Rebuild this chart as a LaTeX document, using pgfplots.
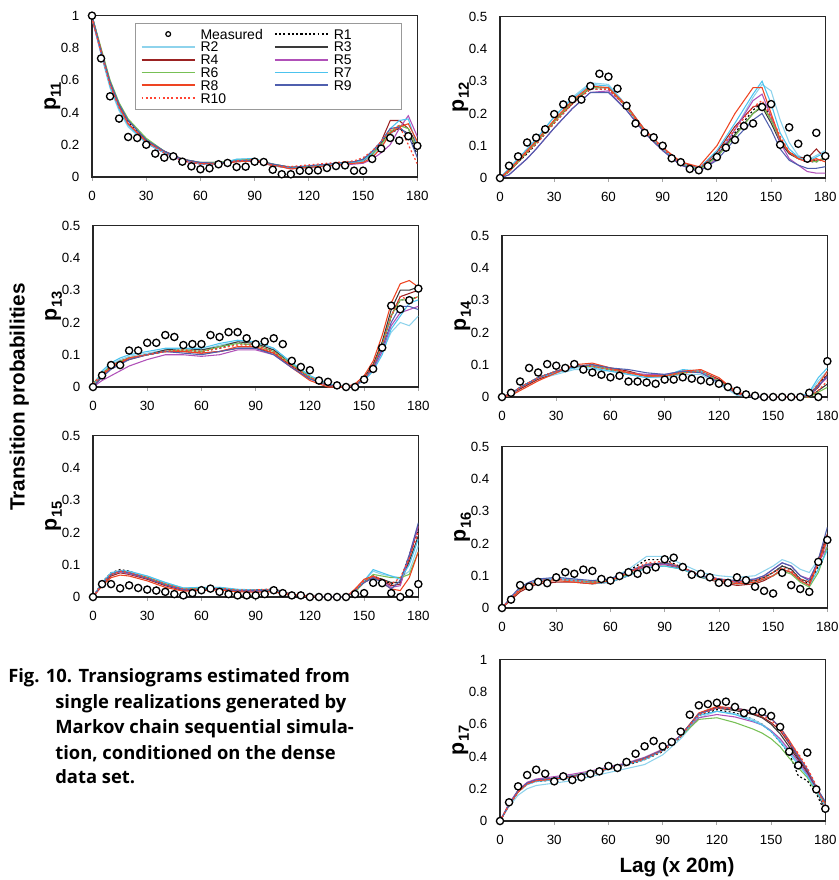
\documentclass[border=0pt]{standalone}
\usepackage{fontspec}
\setmainfont{Liberation Sans}
\newfontfamily\capfont{Open Sans}
\usepackage{pgfplots}
\usepackage{pgfplotstable}
\pgfplotsset{compat=1.18}

\definecolor{cR2}{HTML}{8ED3EC}
\definecolor{cR3}{HTML}{3A3A3A}
\definecolor{cR4}{HTML}{9B2222}
\definecolor{cR5}{HTML}{B050B8}
\definecolor{cR6}{HTML}{77C055}
\definecolor{cR7}{HTML}{4CC3EE}
\definecolor{cR8}{HTML}{EE4422}
\definecolor{cR9}{HTML}{4F5FAE}
\definecolor{cR10}{HTML}{FF4433}

% measured transiograms, lag step 5
\pgfplotstableread{
lag m11 m12 m13 m14 m15 m16 m17
0 1.00 0 0 0 0 0 0
5 0.735 0.038 0.036 0.013 0.040 0.026 0.116
10 0.50 0.067 0.068 0.048 0.040 0.071 0.215
15 0.362 0.110 0.068 0.090 0.027 0.066 0.285
20 0.248 0.125 0.113 0.076 0.036 0.081 0.318
25 0.242 0.151 0.113 0.102 0.028 0.077 0.293
30 0.200 0.198 0.137 0.097 0.023 0.095 0.246
35 0.145 0.228 0.137 0.090 0.020 0.111 0.277
40 0.120 0.244 0.161 0.102 0.016 0.106 0.254
45 0.128 0.243 0.155 0.085 0.009 0.119 0.271
50 0.095 0.285 0.130 0.076 0.005 0.115 0.293
55 0.066 0.323 0.133 0.069 0.012 0.090 0.308
60 0.048 0.314 0.133 0.061 0.021 0.085 0.341
65 0.054 0.277 0.161 0.066 0.026 0.099 0.329
70 0.079 0.224 0.155 0.048 0.016 0.111 0.366
75 0.087 0.169 0.170 0.048 0.009 0.106 0.417
80 0.062 0.140 0.170 0.045 0.005 0.118 0.463
85 0.064 0.126 0.151 0.041 0.005 0.126 0.496
90 0.095 0.100 0.133 0.054 0.005 0.151 0.463
95 0.093 0.061 0.141 0.054 0.009 0.156 0.490
100 0.045 0.049 0.151 0.061 0.021 0.127 0.554
105 0.017 0.028 0.133 0.057 0.012 0.103 0.659
110 0.017 0.024 0.081 0.052 0.005 0.106 0.717
115 0.039 0.037 0.062 0.048 0.005 0.095 0.725
120 0.039 0.065 0.052 0.041 0 0.078 0.733
125 0.041 0.094 0.020 0.031 0 0.078 0.740
130 0.056 0.118 0.016 0.020 0 0.095 0.707
135 0.068 0.161 0.005 0.008 0 0.086 0.669
140 0.072 0.169 0 0.004 0 0.066 0.684
145 0.039 0.220 0 0 0.009 0.053 0.676
150 0.039 0.229 0.023 0 0.012 0.045 0.651
155 0.112 0.103 0.056 0 0.044 0.109 0.583
160 0.176 0.157 0.122 0 0.043 0.071 0.430
165 0.242 0.106 0.252 0 0.012 0.059 0.345
170 0.226 0.060 0.241 0.013 0 0.050 0.424
175 0.253 0.140 0.269 0 0.012 0.143 0.196
180 0.193 0.068 0.305 0.111 0.040 0.211 0.076
}\meas

% realizations R1..R10, one table per transiogram
\pgfplotstableread{
lag r1 r2 r3 r4 r5 r6 r7 r8 r9 r10
0 1.00 0.98 1.00 0.99 0.98 1.00 0.99 0.98 1.00 0.99
5 0.78 0.76 0.79 0.78 0.77 0.80 0.77 0.79 0.78 0.77
10 0.58 0.55 0.59 0.57 0.57 0.60 0.56 0.58 0.59 0.57
15 0.44 0.41 0.45 0.43 0.43 0.46 0.42 0.44 0.45 0.43
20 0.34 0.31 0.35 0.33 0.33 0.36 0.32 0.33 0.35 0.33
30 0.22 0.21 0.23 0.22 0.21 0.24 0.21 0.22 0.23 0.22
40 0.15 0.15 0.16 0.15 0.15 0.16 0.15 0.16 0.16 0.15
50 0.11 0.10 0.11 0.11 0.10 0.11 0.11 0.11 0.11 0.10
60 0.085 0.08 0.09 0.085 0.08 0.09 0.08 0.085 0.09 0.08
70 0.085 0.08 0.09 0.08 0.085 0.09 0.08 0.085 0.085 0.08
80 0.10 0.11 0.10 0.095 0.10 0.105 0.11 0.095 0.10 0.10
90 0.11 0.11 0.105 0.10 0.10 0.11 0.115 0.10 0.105 0.11
100 0.075 0.07 0.08 0.07 0.075 0.08 0.07 0.075 0.08 0.07
110 0.06 0.055 0.06 0.055 0.05 0.06 0.055 0.05 0.06 0.065
120 0.065 0.06 0.065 0.06 0.06 0.065 0.06 0.06 0.07 0.075
130 0.075 0.07 0.075 0.07 0.07 0.075 0.075 0.07 0.08 0.085
140 0.085 0.08 0.09 0.085 0.075 0.09 0.085 0.08 0.09 0.095
145 0.09 0.085 0.095 0.09 0.08 0.095 0.09 0.085 0.095 0.10
150 0.10 0.09 0.11 0.10 0.085 0.105 0.10 0.09 0.11 0.12
155 0.15 0.13 0.15 0.14 0.11 0.14 0.15 0.12 0.16 0.16
160 0.21 0.19 0.21 0.22 0.15 0.20 0.22 0.18 0.22 0.22
165 0.27 0.26 0.28 0.35 0.20 0.28 0.30 0.27 0.30 0.29
170 0.30 0.32 0.30 0.35 0.30 0.32 0.35 0.31 0.31 0.32
175 0.26 0.30 0.27 0.30 0.38 0.30 0.36 0.33 0.26 0.20
180 0.14 0.18 0.17 0.20 0.25 0.17 0.19 0.22 0.12 0.08
}\rA

\pgfplotstableread{
lag r1 r2 r3 r4 r5 r6 r7 r8 r9 r10
0 0 0 0 0 0 0 0 0 0 0
5 0.02 0.03 0.02 0.02 0.01 0.02 0.03 0.025 0.01 0.02
10 0.05 0.06 0.05 0.05 0.035 0.05 0.06 0.055 0.035 0.05
15 0.075 0.09 0.08 0.08 0.06 0.08 0.09 0.085 0.06 0.08
20 0.105 0.12 0.11 0.11 0.09 0.11 0.12 0.115 0.09 0.105
30 0.17 0.19 0.175 0.175 0.155 0.175 0.19 0.18 0.155 0.17
40 0.23 0.25 0.235 0.23 0.215 0.235 0.245 0.24 0.215 0.23
50 0.275 0.295 0.28 0.28 0.265 0.28 0.29 0.285 0.265 0.275
60 0.275 0.29 0.28 0.28 0.27 0.28 0.285 0.28 0.265 0.275
70 0.22 0.225 0.22 0.22 0.21 0.22 0.225 0.225 0.21 0.22
80 0.145 0.15 0.145 0.15 0.14 0.145 0.15 0.15 0.14 0.145
90 0.09 0.09 0.09 0.09 0.085 0.09 0.09 0.095 0.085 0.09
100 0.045 0.045 0.045 0.05 0.04 0.045 0.045 0.05 0.04 0.045
110 0.025 0.03 0.025 0.03 0.02 0.025 0.03 0.035 0.02 0.03
120 0.07 0.075 0.07 0.08 0.06 0.065 0.085 0.10 0.055 0.075
130 0.14 0.15 0.135 0.16 0.15 0.13 0.17 0.20 0.12 0.15
140 0.21 0.25 0.20 0.22 0.24 0.20 0.26 0.28 0.18 0.22
145 0.235 0.29 0.22 0.23 0.26 0.225 0.30 0.28 0.20 0.24
150 0.19 0.27 0.17 0.18 0.19 0.18 0.23 0.20 0.15 0.19
155 0.12 0.18 0.11 0.12 0.11 0.12 0.14 0.12 0.09 0.13
160 0.08 0.11 0.075 0.08 0.06 0.08 0.09 0.08 0.055 0.08
165 0.06 0.07 0.06 0.065 0.04 0.06 0.065 0.06 0.04 0.06
170 0.05 0.055 0.05 0.06 0.02 0.055 0.05 0.05 0.03 0.05
175 0.05 0.07 0.055 0.09 0.015 0.05 0.065 0.06 0.03 0.055
180 0.06 0.085 0.06 0.06 0.015 0.065 0.08 0.05 0.035 0.06
}\rB

\pgfplotstableread{
lag r1 r2 r3 r4 r5 r6 r7 r8 r9 r10
0 0.01 0 0.01 0 0 0.01 0 0 0 0.01
5 0.04 0.045 0.04 0.035 0.02 0.04 0.05 0.035 0.03 0.04
10 0.065 0.07 0.065 0.06 0.035 0.065 0.075 0.06 0.055 0.065
15 0.08 0.085 0.08 0.075 0.05 0.08 0.09 0.075 0.07 0.08
20 0.09 0.095 0.09 0.085 0.065 0.09 0.10 0.09 0.085 0.09
30 0.10 0.105 0.10 0.10 0.085 0.10 0.11 0.10 0.10 0.10
40 0.11 0.115 0.115 0.11 0.10 0.11 0.12 0.11 0.11 0.11
50 0.115 0.12 0.12 0.11 0.10 0.115 0.12 0.11 0.105 0.115
60 0.11 0.115 0.115 0.105 0.095 0.11 0.12 0.105 0.10 0.11
70 0.12 0.13 0.125 0.11 0.10 0.125 0.135 0.11 0.11 0.12
80 0.135 0.14 0.14 0.12 0.115 0.135 0.145 0.125 0.12 0.13
90 0.13 0.14 0.135 0.12 0.115 0.13 0.14 0.125 0.12 0.13
100 0.11 0.12 0.115 0.105 0.10 0.11 0.12 0.105 0.10 0.11
110 0.065 0.075 0.07 0.065 0.06 0.07 0.075 0.06 0.06 0.065
120 0.03 0.035 0.03 0.03 0.025 0.03 0.035 0.02 0.025 0.03
130 0.005 0.01 0.005 0.005 0.005 0.005 0.01 0 0.005 0.005
140 0 0 0 0 0 0 0 0 0 0
145 0.005 0.005 0.005 0.005 0.005 0.005 0.005 0.01 0.005 0.005
150 0.025 0.02 0.03 0.025 0.02 0.025 0.02 0.035 0.025 0.025
155 0.065 0.05 0.07 0.065 0.055 0.06 0.05 0.08 0.06 0.065
160 0.13 0.11 0.14 0.13 0.11 0.13 0.10 0.16 0.12 0.13
165 0.22 0.17 0.24 0.22 0.19 0.22 0.18 0.26 0.20 0.22
170 0.27 0.20 0.30 0.28 0.23 0.27 0.22 0.32 0.25 0.28
175 0.27 0.19 0.30 0.29 0.24 0.27 0.26 0.33 0.25 0.27
180 0.28 0.22 0.31 0.30 0.25 0.28 0.27 0.31 0.24 0.28
}\rC

\pgfplotstableread{
lag r1 r2 r3 r4 r5 r6 r7 r8 r9 r10
0 0 0 0 0 0 0 0 0 0 0
5 0.01 0.005 0.01 0.01 0.01 0.01 0.01 0.005 0.01 0.01
10 0.03 0.025 0.03 0.025 0.03 0.03 0.03 0.02 0.03 0.03
15 0.045 0.04 0.045 0.04 0.045 0.045 0.045 0.035 0.045 0.045
20 0.06 0.055 0.06 0.055 0.06 0.06 0.06 0.05 0.06 0.06
30 0.08 0.07 0.08 0.075 0.08 0.08 0.075 0.075 0.08 0.08
40 0.095 0.085 0.095 0.095 0.095 0.095 0.09 0.10 0.095 0.095
50 0.095 0.085 0.095 0.10 0.095 0.095 0.09 0.105 0.10 0.095
60 0.085 0.08 0.085 0.09 0.085 0.085 0.08 0.09 0.09 0.085
70 0.075 0.07 0.075 0.08 0.075 0.075 0.07 0.075 0.085 0.075
80 0.065 0.06 0.065 0.065 0.07 0.065 0.06 0.065 0.075 0.065
90 0.065 0.06 0.065 0.065 0.07 0.065 0.065 0.065 0.07 0.065
100 0.075 0.07 0.075 0.075 0.08 0.075 0.085 0.08 0.08 0.075
110 0.08 0.07 0.08 0.08 0.08 0.08 0.08 0.085 0.075 0.08
120 0.05 0.04 0.05 0.055 0.05 0.05 0.045 0.06 0.045 0.05
130 0.01 0.005 0.01 0.015 0.01 0.01 0.01 0.015 0.01 0.01
140 0 0 0 0 0 0 0 0 0 0
145 0 0 0 0 0 0 0 0 0 0
150 0 0 0 0 0 0 0 0 0 0
155 0 0 0 0 0 0 0 0 0 0
160 0 0 0 0 0 0 0 0 0 0
165 0 0 0 0 0 0 0 0 0 0
170 0.005 0.01 0 0.005 0.005 0 0.015 0.005 0.005 0
175 0.04 0.05 0.02 0.03 0.035 0.015 0.06 0.04 0.035 0.02
180 0.07 0.08 0.04 0.07 0.06 0.03 0.09 0.08 0.065 0.05
}\rD

\pgfplotstableread{
lag r1 r2 r3 r4 r5 r6 r7 r8 r9 r10
0 0 0 0 0 0 0 0 0 0 0
5 0.045 0.04 0.04 0.035 0.04 0.04 0.045 0.035 0.04 0.04
10 0.075 0.07 0.07 0.065 0.07 0.07 0.075 0.06 0.07 0.07
15 0.085 0.08 0.08 0.075 0.078 0.08 0.082 0.068 0.08 0.08
20 0.08 0.078 0.075 0.07 0.072 0.075 0.08 0.065 0.075 0.076
30 0.06 0.065 0.06 0.055 0.058 0.06 0.065 0.05 0.058 0.06
40 0.04 0.045 0.04 0.035 0.038 0.04 0.045 0.03 0.038 0.04
50 0.025 0.028 0.024 0.02 0.022 0.025 0.028 0.018 0.023 0.025
60 0.025 0.028 0.025 0.022 0.024 0.026 0.03 0.02 0.024 0.025
70 0.028 0.03 0.026 0.023 0.025 0.028 0.03 0.022 0.025 0.027
80 0.022 0.022 0.02 0.018 0.02 0.022 0.024 0.016 0.02 0.022
90 0.022 0.02 0.02 0.018 0.018 0.02 0.022 0.015 0.02 0.022
100 0.025 0.02 0.022 0.018 0.02 0.02 0.022 0.016 0.022 0.024
110 0.008 0.008 0.008 0.006 0.008 0.008 0.008 0.005 0.008 0.008
120 0.003 0.003 0.003 0.002 0.003 0.003 0.003 0.002 0.003 0.003
130 0 0 0 0 0 0 0 0 0 0
140 0 0 0 0 0 0 0 0 0 0
145 0.02 0.02 0.02 0.02 0.02 0.015 0.02 0.025 0.02 0.02
150 0.05 0.05 0.045 0.05 0.045 0.045 0.05 0.055 0.045 0.05
155 0.065 0.08 0.06 0.065 0.06 0.07 0.085 0.065 0.06 0.065
160 0.055 0.07 0.055 0.05 0.05 0.065 0.075 0.045 0.045 0.055
165 0.04 0.065 0.045 0.035 0.03 0.06 0.065 0.025 0.025 0.04
170 0.05 0.06 0.045 0.04 0.035 0.06 0.055 0.02 0.05 0.06
175 0.13 0.08 0.11 0.12 0.13 0.07 0.10 0.06 0.13 0.12
180 0.21 0.16 0.19 0.22 0.22 0.14 0.18 0.14 0.23 0.20
}\rE

\pgfplotstableread{
lag r1 r2 r3 r4 r5 r6 r7 r8 r9 r10
0 0 0 0 0 0 0 0 0 0 0
5 0.03 0.03 0.03 0.025 0.03 0.03 0.03 0.03 0.035 0.03
10 0.06 0.06 0.06 0.05 0.06 0.055 0.06 0.055 0.065 0.06
15 0.075 0.075 0.075 0.065 0.075 0.07 0.075 0.07 0.08 0.075
20 0.085 0.085 0.085 0.075 0.085 0.08 0.085 0.08 0.09 0.085
30 0.09 0.095 0.09 0.08 0.09 0.09 0.09 0.085 0.095 0.09
40 0.085 0.09 0.085 0.08 0.085 0.085 0.085 0.08 0.09 0.085
50 0.08 0.08 0.08 0.075 0.08 0.08 0.075 0.075 0.085 0.08
60 0.085 0.09 0.085 0.08 0.085 0.085 0.08 0.085 0.09 0.085
70 0.115 0.12 0.11 0.10 0.11 0.105 0.10 0.11 0.115 0.11
80 0.15 0.16 0.135 0.13 0.13 0.125 0.125 0.135 0.135 0.14
90 0.15 0.16 0.14 0.135 0.135 0.13 0.13 0.14 0.14 0.145
100 0.125 0.135 0.125 0.12 0.125 0.12 0.12 0.125 0.125 0.125
110 0.10 0.11 0.10 0.095 0.10 0.095 0.095 0.10 0.10 0.10
120 0.09 0.10 0.09 0.08 0.09 0.085 0.085 0.085 0.09 0.09
130 0.08 0.095 0.08 0.07 0.08 0.075 0.075 0.075 0.085 0.08
140 0.085 0.10 0.085 0.075 0.09 0.08 0.08 0.08 0.09 0.085
145 0.095 0.115 0.095 0.085 0.10 0.09 0.09 0.09 0.10 0.095
150 0.11 0.13 0.11 0.10 0.12 0.10 0.10 0.10 0.12 0.11
155 0.13 0.15 0.13 0.12 0.14 0.115 0.12 0.12 0.14 0.125
160 0.12 0.14 0.12 0.11 0.13 0.105 0.11 0.11 0.13 0.115
165 0.09 0.12 0.09 0.085 0.10 0.08 0.085 0.085 0.10 0.09
170 0.075 0.11 0.08 0.07 0.09 0.065 0.07 0.07 0.085 0.08
175 0.13 0.15 0.14 0.15 0.14 0.11 0.12 0.14 0.15 0.14
180 0.21 0.20 0.22 0.23 0.19 0.19 0.18 0.21 0.25 0.22
}\rF

\pgfplotstableread{
lag r1 r2 r3 r4 r5 r6 r7 r8 r9 r10
0 0 0 0 0 0 0 0 0 0 0
5 0.10 0.09 0.10 0.10 0.11 0.10 0.10 0.10 0.10 0.10
10 0.18 0.16 0.19 0.18 0.19 0.18 0.18 0.18 0.19 0.18
15 0.23 0.20 0.235 0.23 0.24 0.23 0.225 0.23 0.235 0.23
20 0.245 0.22 0.255 0.25 0.26 0.25 0.245 0.25 0.255 0.25
30 0.255 0.235 0.265 0.26 0.275 0.265 0.255 0.26 0.265 0.26
40 0.27 0.25 0.28 0.275 0.29 0.28 0.27 0.275 0.28 0.275
50 0.29 0.275 0.30 0.30 0.31 0.305 0.295 0.30 0.30 0.295
60 0.32 0.30 0.325 0.325 0.335 0.33 0.32 0.325 0.33 0.325
70 0.345 0.325 0.355 0.35 0.36 0.355 0.35 0.355 0.355 0.35
80 0.38 0.35 0.39 0.385 0.395 0.39 0.38 0.39 0.39 0.385
90 0.43 0.41 0.44 0.44 0.445 0.44 0.435 0.44 0.44 0.435
100 0.52 0.51 0.53 0.53 0.53 0.525 0.525 0.53 0.53 0.525
110 0.655 0.64 0.665 0.665 0.64 0.63 0.655 0.67 0.665 0.66
120 0.69 0.68 0.70 0.705 0.66 0.64 0.68 0.71 0.70 0.70
130 0.67 0.665 0.685 0.695 0.645 0.61 0.66 0.70 0.70 0.695
140 0.63 0.63 0.66 0.665 0.615 0.57 0.62 0.68 0.68 0.675
145 0.60 0.60 0.64 0.645 0.595 0.545 0.595 0.665 0.665 0.655
150 0.555 0.56 0.60 0.61 0.56 0.51 0.555 0.635 0.635 0.625
155 0.49 0.50 0.54 0.56 0.51 0.46 0.49 0.58 0.58 0.57
160 0.42 0.43 0.46 0.48 0.44 0.39 0.42 0.50 0.49 0.49
165 0.28 0.36 0.38 0.39 0.37 0.33 0.35 0.41 0.40 0.42
170 0.25 0.29 0.30 0.31 0.29 0.27 0.28 0.32 0.32 0.33
175 0.17 0.19 0.19 0.20 0.19 0.18 0.19 0.21 0.21 0.22
180 0.05 0.10 0.07 0.10 0.10 0.11 0.09 0.11 0.12 0.08
}\rG

\pgfplotsset{
  r1/.style={black, line width=0.9pt, dash pattern=on 1.4pt off 1.8pt},
  r2/.style={cR2, line width=0.8pt},
  r3/.style={cR3, line width=0.8pt},
  r4/.style={cR4, line width=0.8pt},
  r5/.style={cR5, line width=0.8pt},
  r6/.style={cR6, line width=0.8pt},
  r7/.style={cR7, line width=0.8pt},
  r8/.style={cR8, line width=0.8pt},
  r9/.style={cR9, line width=0.8pt},
  r10/.style={cR10, line width=0.9pt, dash pattern=on 1.4pt off 1.8pt},
  meas/.style={only marks, mark=*, mark size=2.7pt,
    mark options={fill=white, draw=black, line width=1pt, solid}},
  tp/.style={
    scale only axis, width=244pt, height=121pt,
    xmin=0, xmax=180, ymin=0, ymax=0.5,
    xtick={0,30,60,90,120,150,180},
    ytick={0,0.1,0.2,0.3,0.4,0.5},
    axis line style={line width=1.1pt, black!85},
    tick label style={font=\fontsize{10}{12}\selectfont},
    /pgf/number format/assume math mode=true,
    yticklabel style={/pgf/number format/fixed, /pgf/number format/precision=1, xshift=-3pt},
    xticklabel style={yshift=-4pt},
    tick align=outside, major tick length=3pt, xtick pos=left,
    xtick style={draw=black!35, line width=0.6pt},
    ytick style={draw=none},
    ylabel shift=-7pt,
    ylabel style={font=\fontsize{16}{18}\selectfont\bfseries},
  },
}

\newcommand\reals[1]{%
  \addplot[r1] table[x=lag,y=r1]{#1};
  \addplot[r2] table[x=lag,y=r2]{#1};
  \addplot[r3] table[x=lag,y=r3]{#1};
  \addplot[r4] table[x=lag,y=r4]{#1};
  \addplot[r5] table[x=lag,y=r5]{#1};
  \addplot[r6] table[x=lag,y=r6]{#1};
  \addplot[r7] table[x=lag,y=r7]{#1};
  \addplot[r8] table[x=lag,y=r8]{#1};
  \addplot[r9] table[x=lag,y=r9]{#1};
  \addplot[r10] table[x=lag,y=r10]{#1};
}
\newcommand\plab[1]{p\raisebox{-0.45ex}{\fontsize{11}{11}\selectfont #1}}

\begin{document}
\begin{tikzpicture}
\useasboundingbox (0,0) rectangle (628.5pt,-660pt);

% p11, with legend
\begin{axis}[tp, at={(69pt,-132.75pt)}, anchor=south west,
  ymax=1, ytick={0,0.2,0.4,0.6,0.8,1}, ylabel={\plab{11}},
  legend columns=2, legend cell align=left,
  legend image code/.code={\draw[mark repeat=2,mark phase=2,#1,line width=1.3pt] plot coordinates {(0pt,0pt) (20pt,0pt) (40pt,0pt)};},
  legend style={at={(0.132,0.957)}, anchor=north west, draw=black!40, line width=0.6pt,
    inner xsep=4pt, inner ysep=4pt, font=\fontsize{10.5}{10}\selectfont,
    nodes={text width=46pt, text height=7.4pt, text depth=0pt, inner sep=0.6pt},
    row sep=1pt,
    /tikz/every odd column/.append style={column sep=3pt},
    /tikz/every even column/.append style={column sep=8.5pt}},
  legend entries={Measured,R1,R2,R3,R4,R5,R6,R7,R8,R9,R10}]
  \addlegendimage{only marks, mark=*, mark size=1.8pt, mark options={fill=white, draw=black, line width=0.9pt}}
  \reals{\rA}
  \addplot[meas, forget plot] table[x=lag,y=m11]{\meas};
\end{axis}

% p12
\begin{axis}[tp, at={(375pt,-133.5pt)}, anchor=south west, ylabel={\plab{12}}]
  \reals{\rB}
  \addplot[meas] table[x=lag,y=m12]{\meas};
\end{axis}

% p13
\begin{axis}[tp, at={(69.75pt,-290.25pt)}, anchor=south west, ylabel={\plab{13}}]
  \reals{\rC}
  \addplot[meas] table[x=lag,y=m13]{\meas};
\end{axis}

% p14
\begin{axis}[tp, at={(376.5pt,-297.75pt)}, anchor=south west, ylabel={\plab{14}}]
  \reals{\rD}
  \addplot[meas] table[x=lag,y=m14]{\meas};
\end{axis}

% p15
\begin{axis}[tp, at={(69.75pt,-447.75pt)}, anchor=south west, ylabel={\plab{15}}]
  \reals{\rE}
  \addplot[meas] table[x=lag,y=m15]{\meas};
\end{axis}

% p16
\begin{axis}[tp, at={(376.5pt,-456pt)}, anchor=south west, ylabel={\plab{16}}]
  \reals{\rF}
  \addplot[meas] table[x=lag,y=m16]{\meas};
\end{axis}

% p17
\begin{axis}[tp, at={(375pt,-615.75pt)}, anchor=south west,
  ymax=1, ytick={0,0.2,0.4,0.6,0.8,1}, ylabel={\plab{17}}]
  \reals{\rG}
  \addplot[meas] table[x=lag,y=m17]{\meas};
\end{axis}

\node[rotate=90, font=\fontsize{15.5}{18}\selectfont\bfseries] at (14.5pt,-297.75pt) {Transition probabilities};
\node[font=\fontsize{15.5}{18}\selectfont\bfseries] at (507.75pt,-650.25pt) {Lag (x 20m)};

\begin{scope}[every node/.style={anchor=base west, inner sep=0pt, font=\capfont\bfseries\fontsize{13.8}{16}\selectfont}]
  \node at (6pt,-512pt) {Fig. 10. Transiograms estimated from};
  \node at (41.25pt,-531.2pt) {single realizations generated by};
  \node at (41.25pt,-550pt) {Markov chain sequential simula-};
  \node at (41.25pt,-569.25pt) {tion, conditioned on the dense};
  \node at (41.25pt,-587.5pt) {data set.};
\end{scope}
\end{tikzpicture}
\end{document}
